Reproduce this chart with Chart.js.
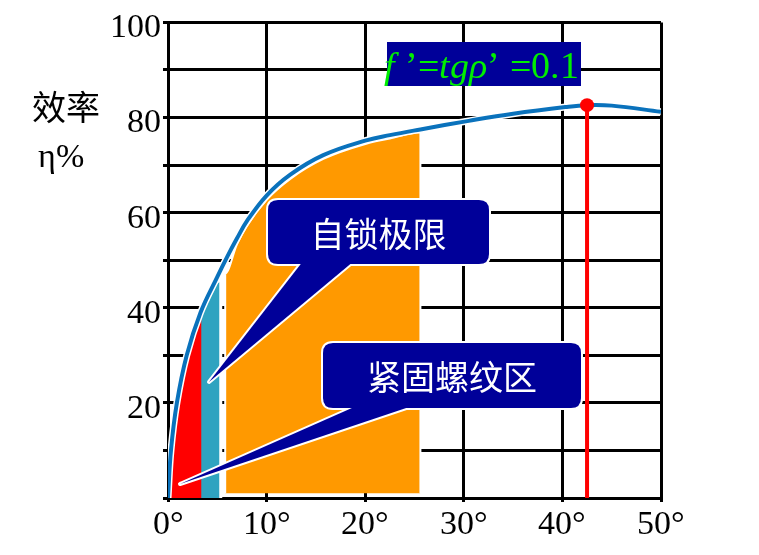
<!DOCTYPE html>
<html><head><meta charset="utf-8">
<script src="https://cdn.jsdelivr.net/npm/chart.js@4/dist/chart.umd.min.js"></script>
<style>
@font-face { font-family: 'SerifX'; font-style: normal; font-weight: 400;
  src: local('Liberation Serif'), local('LiberationSerif'), local('LiberationSerif-Regular'), local('Times New Roman'), local('TimesNewRomanPSMT'), local('DejaVu Serif'), local('DejaVuSerif'); }
@font-face { font-family: 'SerifX'; font-style: italic; font-weight: 400;
  src: local('Liberation Serif Italic'), local('LiberationSerif-Italic'), local('Times New Roman Italic'), local('DejaVu Serif Italic'), local('DejaVuSerif-Italic'); }
html,body{margin:0;padding:0;background:#fff;}
#wrap{width:759px;height:555px;position:relative;}
.pre{position:absolute;left:-999px;top:0;font-family:SerifX;font-size:20px;}
</style>
</head><body>
<div id="wrap"><canvas id="c" width="759" height="555"></canvas></div>
<span class="pre">100 η% <i>f tgρ</i></span>
<script>
// ---- data ----
const angles      = [0, 0.3, 0.9, 1.9, 3.3, 5, 6, 7, 8, 10, 12.4, 15.75, 20.1, 22.5, 25.6, 30.5, 35, 40.3, 42.5, 45, 50];
const efficiency  = [0, 10, 20, 30, 39, 46.5, 50.7, 54.6, 58.2, 63.6, 68, 72.1, 75.2, 76.3, 77.5, 79.3, 80.8, 82.2, 82.6, 82.5, 81.2];
const redAngles   = [0, 0.3, 0.9, 1.9, 3.4, 3.4];
const redEff      = [0, 9.5, 19.5, 29.2, 38, 0];
const tealAngles  = [0, 0.3, 0.9, 1.9, 3.3, 5.35, 5.35];
const tealEff     = [0, 9.5, 19.5, 29.2, 38.5, 45.8, 0];
const orangeAngles= [5.8, 5.8, 7, 8, 10, 12.4, 15.75, 20.1, 22.5, 25.6, 25.6];
const orangeEff   = [1, 47.2, 53.4, 57.2, 62.7, 67.1, 71.3, 74.5, 75.6, 76.9, 1];
const maxAngles   = [42.5, 42.5];
const maxEff      = [0, 82.6];
const xTickValues = [0, 10, 20, 30, 40, 50];
const xTickLabels = ['0°', '10°', '20°', '30°', '40°', '50°'];
const yTickValues = [20, 40, 60, 80, 100];
const yTickLabels = ['20', '40', '60', '80', '100'];

const SERIF = 'SerifX, "Liberation Serif", "Times New Roman", "DejaVu Serif", serif';
const pts = (xs, ys) => xs.map((x, i) => ({x, y: ys[i]}));

function rr(ctx, x, y, w, h, r) {
  ctx.beginPath();
  ctx.moveTo(x + r, y);
  ctx.lineTo(x + w - r, y); ctx.quadraticCurveTo(x + w, y, x + w, y + r);
  ctx.lineTo(x + w, y + h - r); ctx.quadraticCurveTo(x + w, y + h, x + w - r, y + h);
  ctx.lineTo(x + r, y + h); ctx.quadraticCurveTo(x, y + h, x, y + h - r);
  ctx.lineTo(x, y + r); ctx.quadraticCurveTo(x, y, x + r, y);
  ctx.closePath();
}
function tri(ctx, x1, x2, y, tip) {
  ctx.beginPath();
  ctx.moveTo(x1, y); ctx.lineTo(tip[0], tip[1]); ctx.lineTo(x2, y); ctx.closePath();
}
function callout(ctx, b, bx1, bx2, tip, text) {
  ctx.save();
  ctx.lineJoin = 'round';
  ctx.strokeStyle = '#fff'; ctx.lineWidth = 4;
  const by = b.y + b.h - 8;
  rr(ctx, b.x, b.y, b.w, b.h, b.r); ctx.stroke();
  tri(ctx, bx1, bx2, by, tip); ctx.stroke();
  ctx.fillStyle = '#000099';
  rr(ctx, b.x, b.y, b.w, b.h, b.r); ctx.fill();
  tri(ctx, bx1, bx2, by, tip); ctx.fill();
  ctx.fillStyle = '#fff';
  ctx.font = '34px "Noto Sans CJK SC"';
  ctx.textAlign = 'center'; ctx.textBaseline = 'middle';
  ctx.fillText(text, b.x + b.w / 2, b.y + b.h / 2 + 2);
  ctx.restore();
}

const annot = {
  id: 'annot',
  afterDraw(chart) {
    const ctx = chart.ctx;
    ctx.save();
    ctx.fillStyle = '#000';
    ctx.textAlign = 'left'; ctx.textBaseline = 'alphabetic';
    ctx.font = '34px "Noto Sans CJK SC"';
    ctx.fillText('效率', 32, 120);
    ctx.font = '34px ' + SERIF;
    ctx.fillText('η%', 38, 167);

    ctx.fillStyle = '#000099';
    ctx.fillRect(387, 42, 194, 44);
    const segs = [
      ['f', true], [' ’', false], ['=', false], ['tgρ', true], ['’ ', false], ['=0.1', false]
    ];
    const fnt = it => (it ? 'italic ' : '') + '38px ' + SERIF;
    let total = 0;
    segs.forEach(s => { ctx.font = fnt(s[1]); total += ctx.measureText(s[0]).width; });
    let x = 481 - total / 2;
    ctx.fillStyle = '#00ee00';
    segs.forEach(s => { ctx.font = fnt(s[1]); ctx.fillText(s[0], x, 78); x += ctx.measureText(s[0]).width; });
    ctx.restore();

    callout(ctx, {x: 268, y: 200, w: 221, h: 64, r: 10}, 307, 360, [209, 382], '自锁极限');
    callout(ctx, {x: 323, y: 343, w: 258, h: 65, r: 10}, 370, 430, [180, 484], '紧固螺纹区');
  }
};

const serif = {family: SERIF, size: 34};

const chart = new Chart(document.getElementById('c'), {
  type: 'line',
  data: {
    datasets: [
      { data: pts(maxAngles, maxEff), borderColor: '#ff0000', borderWidth: 4,
        pointRadius: [0, 7], pointBackgroundColor: '#ff0000', pointBorderWidth: 0, fill: false },
      { data: pts(angles, efficiency), borderColor: '#0a72bc', borderWidth: 4,
        tension: 0.4, pointRadius: 0, fill: false },
      { data: pts(angles, efficiency), borderColor: '#ffffff', borderWidth: 7,
        tension: 0.4, pointRadius: 0, fill: false },
      { data: pts(redAngles, redEff), borderWidth: 0, borderColor: 'rgba(0,0,0,0)',
        backgroundColor: '#ff0000', cubicInterpolationMode: 'monotone', pointRadius: 0, fill: 'origin' },
      { data: pts(tealAngles, tealEff), borderWidth: 3, borderColor: '#ffffff',
        backgroundColor: '#2fa3c0', cubicInterpolationMode: 'monotone', pointRadius: 0, fill: 'origin' },
      { data: pts(orangeAngles, orangeEff), borderWidth: 2, borderColor: '#ffffff',
        backgroundColor: '#ff9900', cubicInterpolationMode: 'monotone', pointRadius: 0, fill: {value: 1} }
    ]
  },
  options: {
    responsive: false,
    animation: false,
    events: [],
    layout: { padding: { left: 0, top: 15, right: 98, bottom: 0 } },
    plugins: { legend: { display: false }, tooltip: { enabled: false } },
    scales: {
      x: {
        type: 'linear', min: 0, max: 50,
        afterFit: s => { s.height = 57; },
        afterBuildTicks: s => { s.ticks = xTickValues.map(v => ({value: v})); },
        ticks: { font: serif, color: '#000', padding: 3,
                 callback: (v) => { const i = xTickValues.indexOf(v); return i >= 0 ? xTickLabels[i] : ''; } },
        grid: { color: '#000', lineWidth: 3, tickLength: 4 },
        border: { color: '#000', width: 3 }
      },
      y: {
        min: 0, max: 100,
        afterFit: s => { s.width = 168; },
        ticks: { stepSize: 10, font: serif, color: '#000', padding: 2, labelOffset: 6,
                 callback: (v) => { const i = yTickValues.indexOf(v); return i >= 0 ? yTickLabels[i] : ''; } },
        grid: { color: '#000', lineWidth: 3, tickLength: 5 },
        border: { color: '#000', width: 3 }
      }
    }
  },
  plugins: [annot]
});

if (document.fonts && document.fonts.load) {
  Promise.all([
    document.fonts.load('34px SerifX'),
    document.fonts.load('italic 34px SerifX')
  ]).then(() => chart.update('none')).catch(() => {});
}
</script>
</body></html>
